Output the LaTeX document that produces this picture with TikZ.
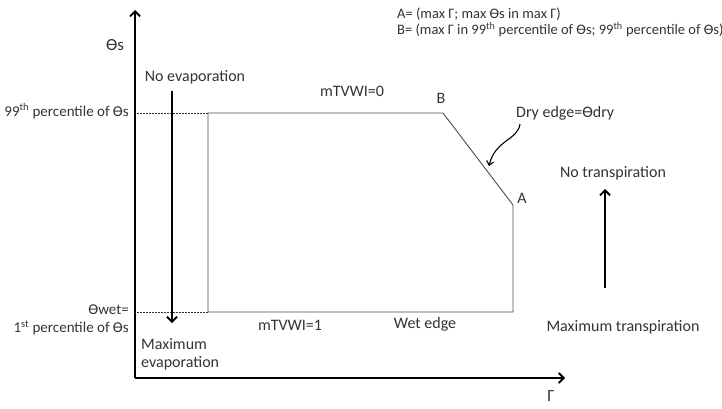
\documentclass[tikz,border=0pt]{standalone}
\usepackage{fontspec}
\setmainfont{Carlito}
\usetikzlibrary{arrows.meta}
\begin{document}
\begin{tikzpicture}[x=1pt,y=-1pt,
  lbl/.style={inner sep=0pt,font=\fontsize{16}{18}\selectfont,text=black!80},
  side/.style={inner sep=0pt,font=\fontsize{15}{17}\selectfont,text=black!80,anchor=east},
  small/.style={inner sep=0pt,font=\fontsize{14.5}{16}\selectfont,text=black!80,anchor=west},
  axis/.style={line width=1.8pt,-{Straight Barb[length=5pt,width=10pt,line width=1.8pt]}},
  bigarrow/.style={line width=1.8pt,-{Straight Barb[length=5pt,width=10pt,line width=1.8pt]}},
  edge/.style={line width=0.9pt,draw=black!70},
  guide/.style={line width=0.5pt,densely dotted,draw=black!80}]
\useasboundingbox (0,0) rectangle (722,409);
% axes
\coordinate (O) at (135,378);
\coordinate (Ytip) at (135,10);
\coordinate (Xtip) at (565,378);
\draw[axis] (O) -- (Ytip);
\draw[axis] (O) -- (Xtip);
\node[lbl,font=\fontsize{17}{19}\selectfont] (thetas) at (115,45) {ϴs};
\node[lbl,font=\fontsize{17}{19}\selectfont] (gamma) at (551,396) {Γ};
% polygon
\coordinate (P1) at (208,113);
\coordinate (B) at (443,113);
\coordinate (A) at (513,205);
\coordinate (P4) at (513,312);
\coordinate (P5) at (208,312);
\draw[edge] (P1) -- (B) -- (A) -- (P4) -- (P5) -- cycle;
% dotted guides
\coordinate (G1) at (135,113);
\coordinate (G2) at (135,312);
\draw[guide] (G1) -- (P1);
\draw[guide] (G2) -- (P5);
% left labels
\node[side] (p99) at (129,111) {99\textsuperscript{th} percentile of ϴs};
\node[side] (wet) at (129,310) {ϴwet=};
\node[side] (p1) at (129,328) {1\textsuperscript{st} percentile of ϴs};
% evaporation arrow
\coordinate (E1) at (172,91);
\coordinate (E2) at (172,323);
\draw[bigarrow] (E1) -- (E2);
\node[lbl] (noevap) at (195,77) {No evaporation};
\node[lbl,anchor=west] (maxevap1) at (141,344) {Maximum};
\node[lbl,anchor=west] (maxevap2) at (141,363) {evaporation};
% polygon labels
\node[lbl] (m0) at (352,91) {mTVWI=0};
\node[lbl] (m1) at (290,325) {mTVWI=1};
\node[lbl] (wedge) at (425,324) {Wet edge};
\node[lbl] (Blbl) at (441,98) {B};
\node[lbl] (Albl) at (522,198) {A};
\node[lbl,anchor=west] (dry) at (516,113) {Dry edge=ϴdry};
% curly arrow
\coordinate (C1) at (520,124);
\coordinate (C2) at (489,166);
\draw[line width=1.1pt,-{Straight Barb[length=4pt,width=7pt,line width=1.1pt]}]
  (C1) .. controls (518,140) and (495,140) .. (C2);
% transpiration
\coordinate (T1) at (605,288);
\coordinate (T2) at (605,189);
\draw[bigarrow] (T1) -- (T2);
\node[lbl] (notr) at (613,173) {No transpiration};
\node[lbl] (maxtr) at (623,327) {Maximum transpiration};
% top-right notes
\node[small] (noteA) at (397,14) {A= (max Γ; max ϴs in max Γ)};
\node[small] (noteB) at (397,30) {B= (max Γ in 99\textsuperscript{th} percentile of ϴs; 99\textsuperscript{th} percentile of ϴs)};
\end{tikzpicture}
\end{document}
